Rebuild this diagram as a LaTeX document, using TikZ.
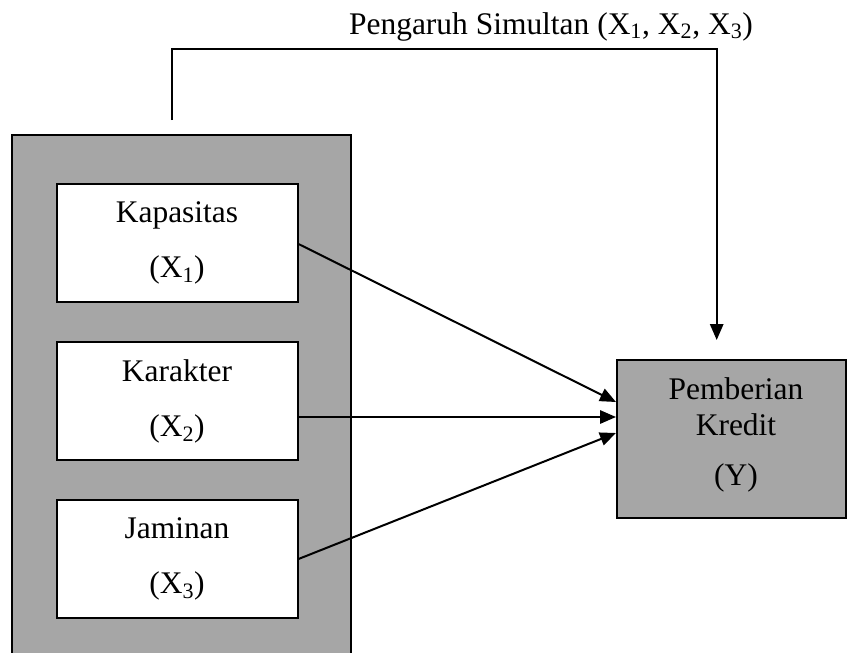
\documentclass[tikz,border=0pt]{standalone}
\usepackage{fontspec}
\setmainfont{Liberation Serif}
\usetikzlibrary{arrows.meta,calc}
\definecolor{panelgray}{RGB}{166,166,166}
\begin{document}
\begin{tikzpicture}[x=0.75pt,y=-0.75pt,
  line width=1.5pt,
  every node/.style={font=\fontsize{23.6}{41.25}\selectfont},
  panel/.style={draw,fill=panelgray,inner sep=0pt,anchor=north west},
  varbox/.style={draw,fill=white,minimum width=180.75pt,minimum height=88.5pt,inner sep=0pt,align=center},
  outbox/.style={draw,fill=panelgray,minimum width=171.75pt,minimum height=118.5pt,inner sep=0pt},
  txt/.style={inner sep=0pt,align=center},
  conn/.style={-{Triangle[length=12pt,width=10pt]}}
]
\clip (0,0) rectangle (847,653);

% grey panel holding the three independent variables
\node[panel,minimum width=254.25pt,minimum height=405pt] (grp) at (11,134) {};

% independent variables
\node[varbox] (kap) at (177,243) {Kapasitas\\(X\textsubscript{1})};
\node[varbox] (kar) at (177,401) {Karakter\\(X\textsubscript{2})};
\node[varbox] (jam) at (177,559) {Jaminan\\(X\textsubscript{3})};

% dependent variable
\node[outbox] (pem) at (731.5,439) {};
\node[txt,font=\fontsize{23.6}{27}\selectfont] (pemtxt) at (736,435) {Pemberian\\Kredit\\[10.5pt](Y)};

% entry points on the left side of the dependent variable
\coordinate (in1) at ([yshift=27.75pt]pem.west);
\coordinate (in2) at ([yshift=16.5pt]pem.west);
\coordinate (in3) at ([yshift=4.5pt]pem.west);

% partial effects
\draw[conn] ([yshift=-0.75pt]kap.east) -- (in1);
\draw[conn] (kar.east |- in2) -- (in2);
\draw[conn] (jam.east) -- (in3);

% simultaneous effect
\coordinate (simstart) at (171.7,120);
\coordinate (simend) at (716.7,340);
\draw[conn] (simstart) -- (171.7,49) -- (716.7,49) -- (simend);
\node[txt,anchor=base] (simlbl) at (551,34) {Pengaruh Simultan (X\textsubscript{1}, X\textsubscript{2}, X\textsubscript{3})};
\end{tikzpicture}
\end{document}
